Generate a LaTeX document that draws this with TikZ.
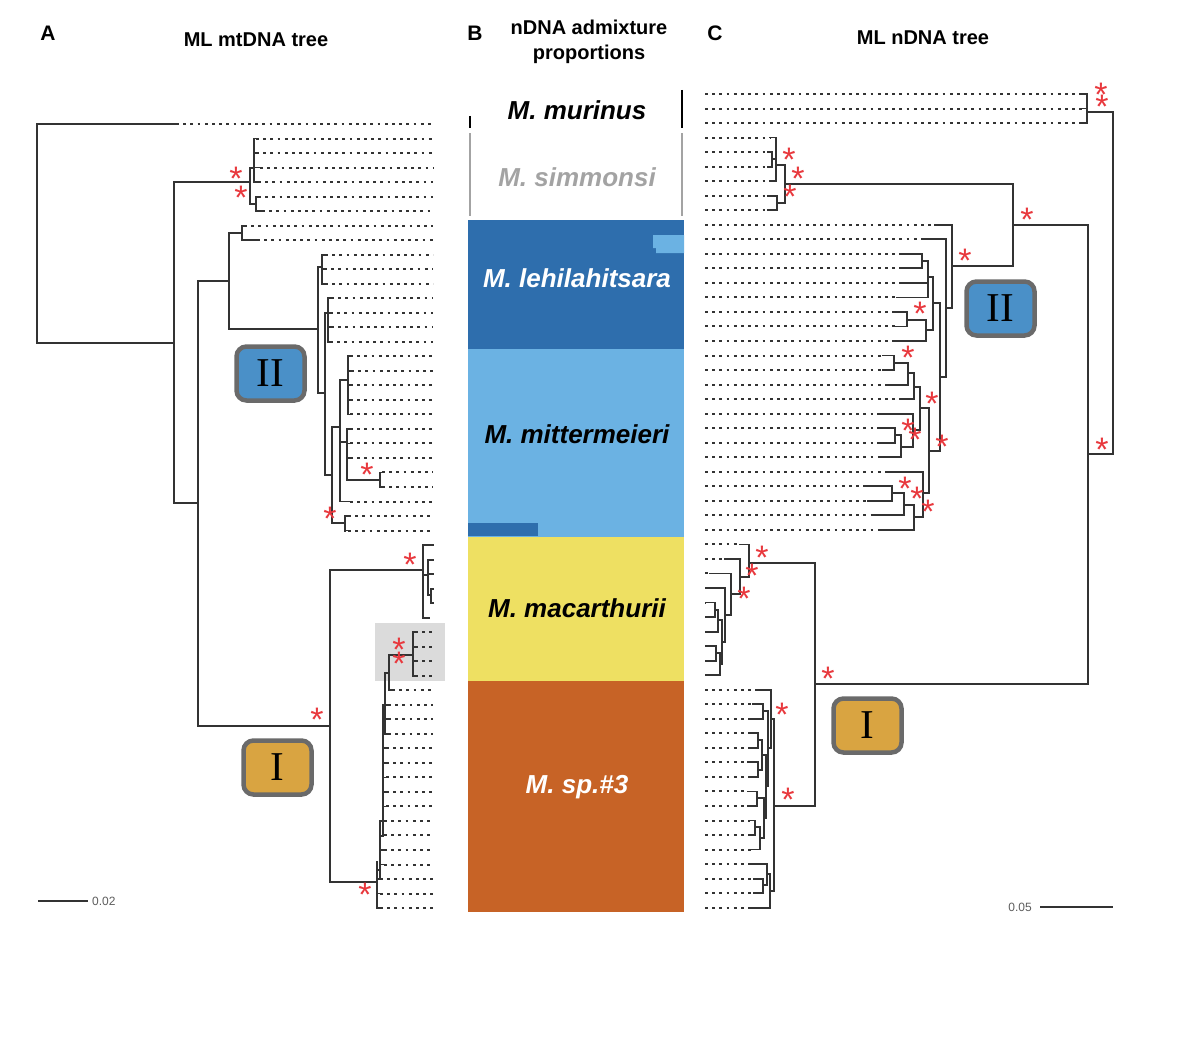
\documentclass[tikz,border=0pt]{standalone}
\usepackage{fontspec}
\setmainfont{Liberation Sans}
\newfontfamily\romanfont{Liberation Serif}
\usetikzlibrary{positioning}
\definecolor{treegray}{HTML}{333333}
\definecolor{sigred}{HTML}{E8383D}
\definecolor{boxgray}{HTML}{6A6A6A}
\definecolor{cladeblue}{HTML}{4A90C8}
\definecolor{cladeorange}{HTML}{D9A441}
\definecolor{lehiblue}{HTML}{2E6EAD}
\definecolor{mitterblue}{HTML}{6BB2E3}
\definecolor{macyellow}{HTML}{EEE062}
\definecolor{sporange}{HTML}{C76326}
\definecolor{simgray}{HTML}{A3A3A3}
\tikzset{branch/.style={line width=1.8pt, draw=treegray, line cap=rect},
  tipdot/.style={line width=2pt, draw=treegray, dash pattern=on 2.8pt off 4.4pt},
  sig/.style={text=sigred, inner sep=0pt, font=\fontsize{34}{34}\selectfont, yshift=-7pt},
  cladebox/.style={draw=boxgray, line width=4.5pt, rounded corners=10pt, minimum width=68pt, minimum height=54pt, font=\romanfont\fontsize{41}{41}\selectfont},
  panel/.style={anchor=base, font=\bfseries\fontsize{21}{21}\selectfont},
  heading/.style={anchor=base, font=\bfseries\fontsize{20}{25}\selectfont, align=center},
  species/.style={anchor=base, font=\bfseries\itshape\fontsize{26}{26}\selectfont},
  scalelab/.style={font=\fontsize{12}{12}\selectfont, text=treegray!80, inner sep=0pt}}

\begin{document}
\begin{tikzpicture}[x=1pt, y=-1pt]
\useasboundingbox (0,0) rectangle (1182,1046);

\node[panel] (labA) at (48,41) {A};
\node[heading] (headA) at (256,47) {ML mtDNA tree};
\node[panel] (labB) at (475,41) {B};
\node[heading, anchor=center] (headB) at (589,42) {nDNA admixture\\proportions};
\node[panel] (labC) at (715,41) {C};
\node[heading] (headC) at (923,45) {ML nDNA tree};

\draw[line width=2pt] (470,116) -- (470,128) (682,90) -- (682,128);
\draw[line width=1.6pt, simgray] (470,133) -- (470,216) (682,133) -- (682,216);
\fill[lehiblue] (468,220) rectangle (684,349);
\fill[mitterblue] (653,235) -- (684,235) -- (684,253) -- (656,253) -- (656,248) -- (653,248) -- cycle;
\fill[mitterblue] (468,349) rectangle (684,537);
\fill[lehiblue] (468,523) rectangle (538,536);
\fill[macyellow] (468,537) rectangle (684,681);
\fill[sporange] (468,681) rectangle (684,912);
\node[species] (murinus) at (577,120) {M. murinus};
\node[species, text=simgray] (simmonsi) at (577,186) {M. simmonsi};
\node[species, text=white] (lehilahitsara) at (577,287) {M. lehilahitsara};
\node[species] (mittermeieri) at (577,443) {M. mittermeieri};
\node[species] (macarthurii) at (577,617) {M. macarthurii};
\node[species, text=white] (sp3) at (577,793) {M. sp.\#3};

\fill[black!14] (375,623) rectangle (445,681);

\foreach \i/\ta/\tb in {1/37/176, 2/254/256, 3/254/256, 4/254/260, 5/254/258, 6/256/258, 7/256/262,
  8/242/244, 9/242/257, 10/322/325, 11/322/324, 12/322/325, 13/328/331, 14/328/330, 15/328/331,
  16/328/330, 17/348/350, 18/348/351, 19/348/350, 20/348/350, 21/348/350, 22/347/350, 23/347/350,
  24/347/350, 25/380/382, 26/380/382, 27/340/350, 28/345/348, 29/345/348, 30/423/433, 31/428/433,
  32/428/433, 33/431/433, 34/431/433, 35/423/427, 36/413/415, 37/413/415, 38/413/415, 39/413/415,
  40/389/392, 41/385/388, 42/385/388, 43/385/388, 44/383/386, 45/383/386, 46/383/386, 47/383/386,
  48/383/386, 49/380/384, 50/380/384, 51/380/384, 52/380/384, 53/377/380, 54/377/380, 55/377/380} {
  \pgfmathsetmacro\y{124+14.52*(\i-1)}
  \draw[branch] (\ta,\y) -- (\tb,\y);
  \draw[tipdot] (\tb,\y) -- (433,\y);
}
\foreach \x/\ya/\yb/\p/\m in {37/124/343/37/343, 174/182/503/37/343, 250/168/204/174/182,
  254/138.5/182.1/250/168, 256/196.6/211.1/250/204, 198/281/726/174/503, 229/233/329/198/281,
  242/225.6/240.2/229/233, 318/267/393/229/329, 322/254.7/283.7/318/267, 325/313/475/318/393,
  328/298.2/341.8/325/313, 332/427/523/325/475, 340/380/501.5/332/427, 348/356.3/414.4/340/380,
  347/428.9/480/340/442, 380/472.5/487/347/480, 345/516/530.6/332/523, 330/570/882/198/726,
  423/545.1/617.7/330/570, 428/559.6/595/423/575, 431/588.6/603.2/428/595, 413/632.2/675.8/389/655,
  389/655/690.3/385/673, 385/673/733.8/383/705, 383/705/836/380/836, 380/821/879/377/870,
  377/862/908.1/330/882} {
  \draw[branch] (\x,\ya) -- (\x,\yb) (\x,\m) -- (\p,\m);
}

\foreach \i/\ta/\tb in {1/1083/1087, 2/1083/1087, 3/1083/1087, 4/770/776, 5/768/772, 6/768/772,
  7/770/776, 8/768/777, 9/768/777, 10/935/952, 11/923/946, 12/903/922, 13/900/922, 14/900/928,
  15/897/928, 16/895/907, 17/895/907, 18/896/926, 19/883/894, 20/883/894, 21/889/908, 22/900/914,
  23/878/913, 24/878/895, 25/878/895, 26/880/901, 27/888/923, 28/865/892, 29/868/892, 30/872/904,
  31/882/914, 32/740/749, 33/725/740, 34/710/731, 35/708/725, 36/706/715, 37/706/715, 38/706/718,
  39/708/716, 40/708/716, 41/708/720, 42/757/771, 43/753/763, 44/752/763, 45/752/758, 46/752/758,
  47/748/758, 48/750/758, 49/748/757, 50/748/757, 51/750/755, 52/750/755, 53/752/760, 54/752/767,
  55/754/763, 56/754/763, 57/752/770} {
  \pgfmathsetmacro\y{94+14.53*(\i-1)}
  \draw[branch] (\ta,\y) -- (\tb,\y);
  \draw[tipdot] (705,\y) -- (\ta,\y);
}
\foreach \x/\ya/\yb/\p/\m in {1113/112/454/1113/112, 1087/94/123.1/1113/112, 1088/225/684/1113/454,
  1013/184/266/1088/225, 785/165/203/1013/184, 776/137.6/181.2/785/165, 772/152.1/166.7/776/159,
  777/195.7/210.2/785/203, 952/224.8/308/1013/266, 946/239.3/377/952/308, 940/303/451/946/377,
  933/277/330/940/303, 928/261/297.4/933/277, 922/253.8/268.4/928/261, 926/320/341/933/330,
  907/311.9/326.5/926/320, 929/408/493/940/451, 920/387/430/929/408, 914/373/399.1/920/387,
  908/363/384.6/914/373, 894/355.5/370.1/908/363, 913/413.6/447/920/430, 901/435/457.2/913/447,
  895/428.2/442.7/901/435, 923/471.8/517/929/493, 914/505/529.9/923/517, 904/493/515.3/914/505,
  892/486.3/500.8/904/493, 815/563/806/1088/684, 749/544.4/577/815/563, 740/558.9/594/749/577,
  731/573.5/615/740/594, 725/588/642/731/615, 722/620/664/725/642, 718/610/631.6/722/620,
  715/602.5/617/718/610, 720/653/675.2/722/664, 716/646.1/660.6/720/653, 774/719/891/815/806,
  771/689.7/748/774/719, 768/711/786/771/748, 763/704.2/718.7/768/711, 766/755/818/768/786,
  762/740/769.6/766/755, 758/733.3/747.8/762/740, 758/762.3/776.9/762/769.6, 764/798/838/766/818,
  757/791.4/805.9/764/798, 760/827/849.5/764/838, 755/820.4/835/760/827, 770/874/907.6/774/891,
  767/864/885/770/874, 763/878.6/893.1/767/885} {
  \draw[branch] (\x,\ya) -- (\x,\yb) (\x,\m) -- (\p,\m);
}

\foreach \sx/\sy [count=\k] in {236/172, 241/191, 367/468, 330/512, 410/558, 399/643, 399/657,
  317/713, 365/888}
  \node[sig] (sigL\k) at (\sx,\sy) {*};
\foreach \sx/\sy [count=\k] in {1101/88, 1102/100, 789/153, 798/172, 790/190, 1027/213, 965/254,
  920/307, 908/351, 932/397, 908/424, 915/433, 1102/443, 942/440, 905/482, 917/492, 928/505,
  762/551, 752/569, 744/592, 828/672, 782/708, 788/793}
  \node[sig] (sigR\k) at (\sx,\sy) {*};

\node[cladebox, fill=cladeblue] (cladeIIL) at (270.5,373.5) {II};
\node[cladebox, fill=cladeorange] (cladeIL) at (277.5,767.5) {I};
\node[cladebox, fill=cladeblue] (cladeIIR) at (1000.5,308.5) {II};
\node[cladebox, fill=cladeorange] (cladeIR) at (867.5,725.5) {I};

\coordinate (barL1) at (38,901);
\coordinate (barL2) at (88,901);
\draw[line width=1.5pt, treegray] (barL1) -- (barL2);
\node[scalelab, right=4pt of barL2] (scaleL) {0.02};
\coordinate (barR1) at (1040,907);
\coordinate (barR2) at (1113,907);
\draw[line width=1.5pt, treegray] (barR1) -- (barR2);
\node[scalelab, left=8pt of barR1] (scaleR) {0.05};
\end{tikzpicture}
\end{document}
